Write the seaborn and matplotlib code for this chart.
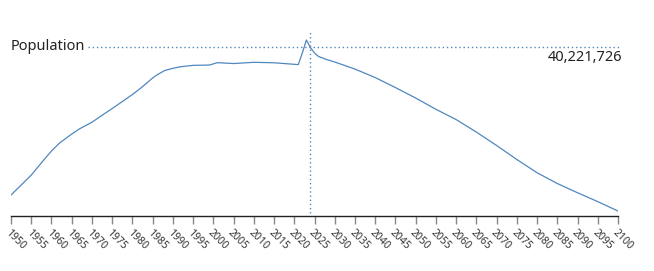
import matplotlib
matplotlib.use("Agg")
import matplotlib.pyplot as plt
import seaborn as sns
import pandas as pd

years = [1950, 1955, 1958, 1960, 1962, 1965, 1967, 1970, 1973, 1975,
         1977, 1980, 1982, 1985, 1986, 1988, 1990, 1992, 1995, 1999,
         2001, 2005, 2010, 2015, 2020, 2021, 2022, 2023, 2024, 2025, 2026,
         2028, 2030, 2035, 2040, 2045, 2050, 2055, 2060, 2065, 2070, 2075,
         2080, 2085, 2090, 2095, 2100]
population_m = [24.74, 26.83, 28.37, 29.36, 30.20, 31.14, 31.70, 32.38,
                33.25, 33.82, 34.40, 35.29, 35.94, 37.02, 37.33, 37.81, 38.04,
                38.21, 38.35, 38.38, 38.63, 38.54, 38.67, 38.62, 38.46, 38.43,
                39.66, 41.01, 40.22, 39.64, 39.28, 38.96, 38.70, 37.96, 37.07,
                36.02, 34.92, 33.74, 32.66, 31.35, 29.94, 28.47, 27.08, 25.95,
                24.98, 24.05, 23.06]
tick_years = list(range(1950, 2101, 5))
highlight_year = 2024
highlight_label = "40,221,726"
series_label = "Population"

df = pd.DataFrame({"year": years, "pop": population_m})

sns.set_theme(style="white")
plt.rcParams["font.family"] = ["Noto Sans", "DejaVu Sans"]

fig = plt.figure(figsize=(6.54, 2.71), dpi=100)
ax = fig.add_axes([11/654, (271-216)/271, (618-11)/654, (216-30)/271])

color = "#4f87bf"
sns.lineplot(data=df, x="year", y="pop", ax=ax, color=color, linewidth=0.9)

ax.set_xlim(1950, 2100)
ax.set_ylim(22.54, 42.06)

x_per_px = 150 / 607
# horizontal dotted crosshair
ax.plot([1950 + (88-11)*x_per_px, 1950 + (621-11)*x_per_px], [40.30, 40.30],
        linestyle=(0, (1, 2)), color=color, linewidth=1.0, clip_on=False)
# vertical dotted crosshair
ax.plot([highlight_year, highlight_year], [22.9, 41.9],
        linestyle=(0, (1, 2)), color=color, linewidth=1.0, clip_on=False)

ax.text(0.0, 40.30, series_label, fontsize=10.5, color="#222222",
        ha="left", va="center", transform=ax.get_yaxis_transform())
ax.text(1950 + (622-11)*x_per_px, 39.2, highlight_label, fontsize=10.5,
        color="#222222", ha="right", va="center")

for s in ["top", "right", "left"]:
    ax.spines[s].set_visible(False)
ax.spines["bottom"].set_color("#222222")
ax.spines["bottom"].set_linewidth(1.0)
ax.set_yticks([])
ax.set_xticks(tick_years)
ax.set_xticklabels([str(y) for y in tick_years], rotation=-45, ha="left",
                   va="top", rotation_mode="anchor", fontsize=7.5,
                   color="#333333")
ax.tick_params(axis="x", bottom=True, length=6, width=1, color="#888888",
               pad=2)
ax.set_xlabel("")
ax.set_ylabel("")

fig.savefig("out.png", dpi=100)
